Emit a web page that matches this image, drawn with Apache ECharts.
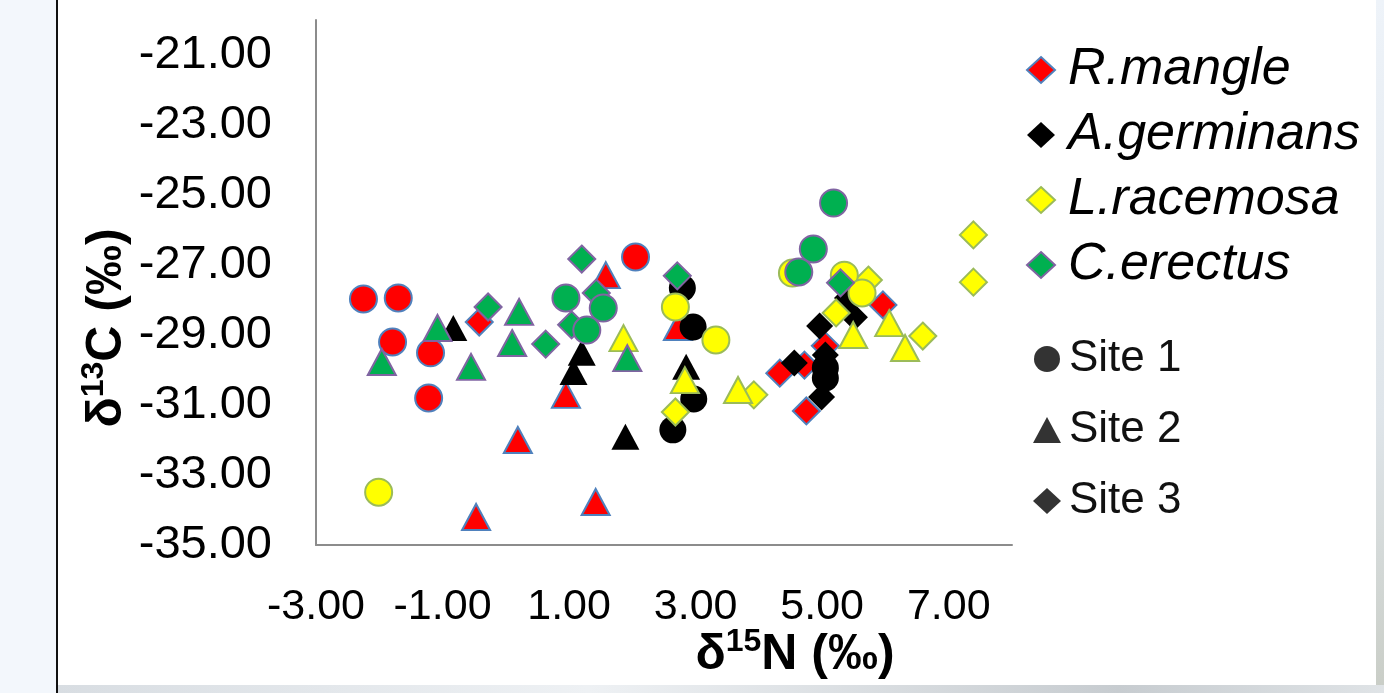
<!DOCTYPE html>
<html>
<head>
<meta charset="utf-8">
<title>d13C vs d15N</title>
<script src="https://cdn.jsdelivr.net/npm/echarts@6/dist/echarts.min.js"></script>
<style>
    html, body { margin: 0; padding: 0; background: #fff; }
    #main { position: absolute; left: 0; top: 0; width: 1384px; height: 693px; }
    .side { position: absolute; left: 0; top: 0; width: 56px; height: 693px; background: #f3f7fc; border-right: 2px solid #111; }
    .rim { position: absolute; left: 1376px; top: 0; width: 8px; height: 693px; background: linear-gradient(#eef3f9, #dfe5ea 60%, #c9cdc6); }
    .foot { position: absolute; left: 58px; top: 685px; width: 1326px; height: 8px; background: linear-gradient(90deg, #d8dde2, #eef1f4 40%, #c7ccd0 80%, #dfe3e6); }
</style>
</head>
<body>
<div class="side"></div>
<div class="rim"></div>
<div class="foot"></div>
<div id="main"></div>
<script>
// tick labels
var xTicks = [-3, -1, 1, 3, 5, 7];
var yTicks = [-35, -33, -31, -29, -27, -25, -23, -21];

var species = ['R.mangle', 'A.germinans', 'L.racemosa', 'C.erectus'];
var sites = ['Site 1', 'Site 2', 'Site 3'];

// [d15N, d13C] per species and site
var rMangleSite1 = [[-2.25, -27.97], [-1.70, -27.94], [-1.79, -29.20], [-1.19, -29.51], [-1.22, -30.80], [2.05, -26.77]];
var rMangleSite2 = [[1.58, -27.29], [0.95, -30.71], [0.19, -32.00], [-0.47, -34.20], [1.42, -33.77], [2.72, -28.77]];
var rMangleSite3 = [[-0.42, -28.63], [5.96, -28.14], [5.05, -29.31], [4.72, -29.86], [4.33, -30.09], [4.75, -31.17]];

var aGermSite1 = [[2.79, -27.66], [2.96, -28.77], [2.97, -30.83], [2.64, -31.71], [5.05, -29.94], [5.05, -30.23]];
var aGermSite2 = [[-0.83, -28.80], [1.20, -29.51], [1.07, -30.06], [1.89, -31.91], [2.85, -29.91]];
var aGermSite3 = [[5.40, -27.94], [5.51, -28.49], [4.96, -28.74], [5.05, -29.57], [4.56, -29.80], [4.99, -30.77]];

var lRacSite1 = [[-2.01, -33.49], [2.68, -28.20], [3.32, -29.14], [4.53, -27.23], [5.35, -27.29], [5.63, -27.80]];
var lRacSite2 = [[1.86, -29.09], [2.83, -30.29], [3.67, -30.57], [5.49, -29.00], [6.06, -28.66], [6.31, -29.37]];
var lRacSite3 = [[2.68, -31.20], [3.92, -30.71], [5.22, -28.37], [5.73, -27.43], [6.59, -29.03], [7.39, -26.14], [7.39, -27.49]];

var cErecSite1 = [[0.95, -27.94], [1.54, -28.23], [1.28, -28.86], [4.63, -27.20], [4.86, -26.54], [5.18, -25.23]];
var cErecSite2 = [[-1.96, -29.77], [-1.08, -28.80], [-0.55, -29.91], [0.10, -29.23], [0.21, -28.34], [1.92, -29.66]];
var cErecSite3 = [[-0.28, -28.20], [0.63, -29.26], [1.20, -26.83], [1.43, -27.80], [1.04, -28.71], [2.71, -27.31], [5.29, -27.51]];

var fills = ['#ff0000', '#000000', '#ffff00', '#00b050'];
var borders = ['#4f81bd', '#000000', '#9bbb59', '#8064a2'];
var symbols = ['circle', 'triangle', 'diamond'];
var sizes = [27, [28, 26], 27];

var dataBySpecies = [
    [rMangleSite1, rMangleSite2, rMangleSite3],
    [aGermSite1, aGermSite2, aGermSite3],
    [lRacSite1, lRacSite2, lRacSite3],
    [cErecSite1, cErecSite2, cErecSite3]
];

var series = [];
species.forEach(function (name, i) {
    // diamonds first, circles last (drawn on top)
    [2, 1, 0].forEach(function (s) {
        series.push({
            // the Site 3 series carries the species name so its diamond shows in the legend
            name: s === 2 ? name : name + ' ' + sites[s],
            type: 'scatter',
            symbol: symbols[s],
            symbolSize: sizes[s],
            itemStyle: {
                color: fills[i],
                borderColor: borders[i],
                borderWidth: i === 1 ? 0 : 2,
                opacity: 1
            },
            emphasis: { disabled: true },
            data: dataBySpecies[i][s]
        });
    });
});
sites.forEach(function (name, s) {
    series.push({
        name: name,
        type: 'scatter',
        symbol: symbols[s],
        itemStyle: { color: '#000' },
        data: []
    });
});

var font = '"Liberation Sans", Arial, sans-serif';
var titleRich = {
    b: { fontSize: 50, fontWeight: 'bold', fontFamily: font, fill: '#000', lineHeight: 54, verticalAlign: 'bottom' },
    s: { fontSize: 32, fontWeight: 'bold', fontFamily: font, fill: '#000', lineHeight: 54, verticalAlign: 'top' }
};

var option = {
    animation: false,
    textStyle: { fontFamily: font },
    grid: { left: 316, top: 20, right: 372, bottom: 148 },
    xAxis: {
        type: 'value',
        min: -3,
        max: 8,
        interval: 2,
        splitLine: { show: false },
        axisTick: { show: false },
        axisLine: { onZero: false, lineStyle: { color: '#8c8c8c', width: 2 } },
        axisLabel: {
            color: '#000',
            fontSize: 43,
            margin: 41,
            showMaxLabel: false,
            formatter: function (v) { return xTicks.indexOf(v) >= 0 ? v.toFixed(2) : ''; }
        }
    },
    yAxis: {
        type: 'value',
        min: -35,
        max: -20,
        interval: 2,
        splitLine: { show: false },
        axisTick: { show: false },
        axisLine: { onZero: false, lineStyle: { color: '#8c8c8c', width: 2 } },
        axisLabel: {
            color: '#000',
            fontSize: 47,
            margin: 44,
            showMaxLabel: false,
            formatter: function (v) { return yTicks.indexOf(v) >= 0 ? v.toFixed(2) : ''; }
        }
    },
    legend: [
        {
            data: species,
            orient: 'vertical',
            left: 1026,
            top: 44,
            padding: 0,
            itemGap: 13,
            itemWidth: 28,
            itemHeight: 26,
            selectedMode: false,
            textStyle: { fontSize: 52, fontStyle: 'italic', color: '#000', padding: [0, 0, 0, 8] }
        },
        {
            data: sites,
            orient: 'vertical',
            left: 1033,
            top: 337,
            padding: 0,
            itemGap: 27,
            itemWidth: 28,
            itemHeight: 26,
            selectedMode: false,
            textStyle: { fontSize: 44, color: '#111', padding: [0, 0, 0, 3] }
        }
    ],
    graphic: [
        {
            type: 'text',
            x: 105,
            y: 328,
            rotation: Math.PI / 2,
            style: {
                text: '{b|δ}{s|13}{b|C (‰)}',
                align: 'center',
                verticalAlign: 'middle',
                rich: titleRich
            }
        },
        {
            type: 'text',
            x: 795,
            y: 653,
            style: {
                text: '{b|δ}{s|15}{b|N (‰)}',
                align: 'center',
                verticalAlign: 'middle',
                rich: titleRich
            }
        }
    ],
    series: series
};

var myChart = echarts.init(document.getElementById('main'));
myChart.setOption(option);
</script>
</body>
</html>
